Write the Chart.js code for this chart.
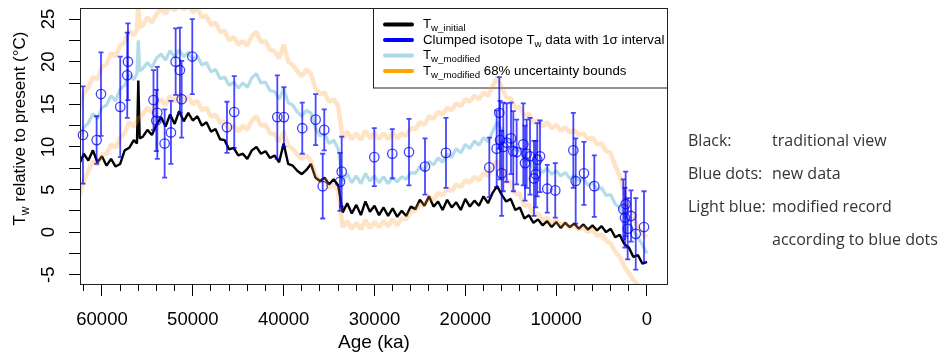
<!DOCTYPE html>
<html>
<head>
<meta charset="utf-8">
<script src="https://cdn.jsdelivr.net/npm/chart.js@4/dist/chart.umd.min.js"></script>
<style>
html,body{margin:0;padding:0;background:#fff;}
#wrap{position:relative;width:948px;height:355px;overflow:hidden;}
#c{position:absolute;left:0;top:0;}
.note{position:absolute;font-family:"Open Sans",sans-serif;font-size:16px;line-height:20px;color:#333;white-space:nowrap;}
</style>
</head>
<body>
<div id="wrap">
<canvas id="c" width="948" height="355"></canvas>
<div class="note" style="left:688px;top:130px;">Black:</div>
<div class="note" style="left:772px;top:130px;">traditional view</div>
<div class="note" style="left:688px;top:163px;">Blue dots:</div>
<div class="note" style="left:772px;top:163px;">new data</div>
<div class="note" style="left:688px;top:196px;">Light blue:</div>
<div class="note" style="left:772px;top:196px;">modified record</div>
<div class="note" style="left:772px;top:229px;">according to blue dots</div>
</div>
<script>
// ---- data (age in years before present, temperature in °C) ----
const age = [62500,62000,61500,61000,60500,60000,59500,59000,58500,58000,
57500,57000,56500,56150,56000,55850,55500,55000,54500,54000,53500,53000,
52500,52000,51500,51000,50500,50000,49500,49000,48500,48000,
47500,47000,46500,46000,45500,45000,44500,44000,43500,43000,
42500,42000,41500,41000,40500,40000,39500,39000,38500,38000,
37500,37000,36500,36000,35500,35000,34500,34000,33500,33000,
32500,32000,31500,31000,30500,30000,29500,29000,28500,28000,
27500,27000,26500,26000,25500,25000,24500,24000,23500,23000,
22500,22000,21500,21000,20500,20000,19500,19000,18500,18000,
17500,17000,16500,16000,15500,15000,14500,14000,13500,13000,
12500,12000,11500,11000,10500,10000,9500,9000,8500,8000,
7500,7000,6500,6000,5500,5000,4500,4000,3500,3000,
2500,2000,1500,1000,500,0];

const twInitial = [8.0,9.2,8.4,9.6,8.2,8.9,7.8,8.6,7.7,8.0,
9.6,9.9,10.8,10.4,17.8,11.0,11.2,12.0,11.4,12.6,13.5,12.4,
13.8,12.7,14.2,13.0,14.0,13.1,13.6,12.5,12.9,11.8,
12.1,10.9,10.8,9.7,9.9,9.0,9.2,8.6,9.6,10.0,
9.2,9.5,8.7,9.0,8.2,10.4,8.0,7.8,7.2,6.8,
7.3,8.0,6.4,6.0,6.4,5.6,6.2,5.5,2.3,3.4,
2.2,3.2,2.0,3.6,2.4,3.1,2.0,2.9,1.9,2.8,
1.8,2.5,1.9,3.0,2.7,3.8,3.1,4.2,3.0,3.6,
2.6,3.8,2.9,3.5,2.6,3.9,3.0,3.7,3.1,4.2,
3.4,4.6,5.4,4.4,3.6,3.9,2.6,2.9,1.6,2.0,
1.1,1.5,0.8,1.3,0.6,1.2,0.5,1.1,0.6,1.0,
0.4,0.9,0.3,0.8,0.2,0.7,0.0,0.4,-0.6,-0.3,
-1.4,-1.8,-2.9,-2.7,-3.7,-3.5];

const twModified = [11.0,12.3,12.8,13.9,13.3,14.6,14.9,16.0,15.4,16.8,
17.2,18.5,17.9,18.6,22.5,18.9,19.2,19.9,19.3,20.4,20.9,20.2,
21.3,20.5,21.4,20.6,21.1,20.2,20.7,19.6,19.9,18.8,
19.1,18.0,18.2,17.2,17.6,16.9,17.5,17.0,18.1,18.6,
17.5,17.6,16.6,16.5,15.6,16.8,15.2,14.9,14.1,13.6,
14.3,14.0,12.2,11.3,11.6,10.4,10.8,9.8,6.0,6.8,
5.8,6.6,5.7,6.9,6.0,6.6,5.8,6.5,5.7,6.4,
5.9,6.5,6.2,7.0,6.9,7.7,7.3,8.3,7.9,8.7,
8.2,9.2,8.8,9.8,9.3,10.3,9.8,10.7,10.2,11.1,
10.6,11.8,12.9,12.0,10.8,10.9,9.6,9.8,8.4,8.5,
7.4,7.7,7.0,7.5,6.8,7.2,6.6,7.0,6.3,6.7,
6.0,6.3,5.5,5.8,5.0,5.2,4.3,4.4,3.3,2.9,
2.0,1.2,0.2,-0.6,-1.5,-2.5];

const twUpper = [14.5,16.3,17.0,18.2,17.9,19.4,19.7,21.0,20.6,21.9,
22.3,23.6,23.1,23.8,27.0,24.0,24.3,25.2,24.6,25.6,26.2,25.6,
26.6,26.0,26.8,26.1,26.6,25.8,26.3,25.2,25.4,24.3,
24.6,23.5,23.6,22.5,22.9,22.0,22.4,21.9,23.0,23.5,
22.3,22.4,21.4,21.2,20.4,22.0,20.0,19.6,18.9,18.3,
19.1,18.6,16.9,16.2,16.4,15.3,15.6,14.8,11.0,11.8,
10.9,11.6,10.8,11.9,11.0,11.7,10.9,11.6,10.9,11.7,
11.0,11.6,11.3,12.2,12.1,12.9,12.6,13.6,13.3,14.1,
13.8,14.6,14.3,15.1,14.8,15.6,15.3,16.0,15.6,16.4,
16.0,17.1,18.2,17.0,15.8,15.7,14.6,14.7,13.6,13.9,
12.8,13.1,12.4,12.9,12.2,12.6,11.9,12.3,11.7,12.0,
11.4,11.6,10.9,11.1,10.3,10.4,9.5,9.3,7.8,6.6,
4.8,3.0,1.6,0.6,-0.2,-0.6];

const twLower = [4.2,6.0,7.2,8.3,7.9,9.1,9.2,10.3,9.9,11.1,
11.6,12.9,12.4,13.0,13.5,13.4,13.8,14.6,14.0,15.0,15.6,14.9,
16.0,15.3,16.2,15.4,15.9,15.0,15.4,14.3,14.6,13.5,
13.8,12.8,13.0,12.0,12.5,11.8,12.5,12.0,13.1,13.6,
12.5,12.6,11.6,11.5,10.6,11.8,10.2,9.8,9.1,8.6,
9.0,8.4,6.7,5.9,6.2,5.2,5.6,4.9,0.6,1.3,
0.4,1.1,0.3,1.4,0.5,1.2,0.6,1.3,0.7,1.5,
0.8,1.6,1.5,2.4,2.5,3.3,3.2,4.1,3.8,4.6,
4.3,5.1,4.8,5.6,5.3,6.1,5.8,6.5,6.1,6.9,
6.6,7.6,8.4,7.4,5.9,5.9,4.5,4.5,3.1,3.2,
2.0,2.2,1.4,1.7,1.0,1.4,0.8,1.1,0.5,0.8,
0.3,0.6,0.0,0.3,-0.4,-0.3,-1.0,-1.3,-2.3,-2.9,
-4.0,-4.8,-5.6,-6.2,-6.8,-7.0];

// clumped isotope data points
const ptAge = [62090,60590,60110,57990,57220,57140,54330,53910,54020,53100,
52410,51890,51420,51230,50060,46240,45440,40700,39970,37950,
36480,35530,35700,33800,33610,30020,28040,26200,24440,22130,
17360,16550,16260,16180,16000,15820,15450,14970,14720,14350,
13620,13430,13250,12880,12440,12250,12080,11780,10980,10100,
8110,7850,6940,5800,2610,2420,2350,2130,1760,1240,330];
const ptT = [11.4,10.8,16.2,14.7,18.4,20.0,15.5,14.0,13.1,10.4,
11.7,20.0,19.0,15.6,20.6,12.3,14.1,13.5,13.5,12.2,
13.2,12.0,5.4,5.9,7.1,8.8,9.2,9.4,7.7,9.3,
7.6,9.8,14.0,10.8,6.9,10.0,10.5,11.0,9.5,9.4,
10.3,8.1,9.2,8.9,6.3,6.8,8.5,8.9,5.1,4.9,
9.6,6.0,6.9,5.4,2.7,1.7,3.3,0.4,1.9,-0.2,0.6];
const ptErr = [5.7,2.8,4.9,5.9,5.0,4.5,3.5,5.4,3.6,4.0,
3.7,3.9,5.0,4.5,4.4,3.0,4.2,4.9,3.5,3.0,
3.0,2.4,3.8,3.4,4.1,3.4,2.9,3.9,3.3,4.1,
3.5,4.5,4.2,4.6,5.0,5.2,4.6,4.2,4.7,3.8,
4.8,4.4,4.0,4.5,4.4,3.9,4.3,4.2,2.8,3.2,
4.4,5.0,3.7,3.6,3.5,3.5,3.8,3.6,3.0,4.2,4.2];

// axis ranges and tick values
const xMin = -2312, xMax = 62420;
const yMin = -6.2, yMax = 26.3;
const xMajorTicks = [60000, 50000, 40000, 30000, 20000, 10000, 0];
const xMinorTicks = [62000,60000,58000,56000,54000,52000,50000,48000,46000,44000,42000,40000,
  38000,36000,34000,32000,30000,28000,26000,24000,22000,20000,18000,16000,14000,12000,10000,
  8000,6000,4000,2000,0];
const yTicks = [-5, -2.5, 0, 2.5, 5, 7.5, 10, 12.5, 15, 17.5, 20, 22.5, 25];
const yTickLabels = ['-5', '', '0', '', '5', '', '10', '', '15', '', '20', '', '25'];

const legendItems = [
  {color:'#000000', parts:[['T',0],['w_initial',1]]},
  {color:'#0000ff', parts:[['Clumped isotope T',0],['w',1],[' data with 1\u03c3 interval',0]]},
  {color:'#add8e6', parts:[['T',0],['w_modified',1]]},
  {color:'#ffa500', parts:[['T',0],['w_modified',1],[' 68% uncertainty bounds',0]]}
];
const yTitleParts = [['T',0],['w',1],[' relative to present (\u00b0C)',0]];

// ---- helpers ----
const FAM = '"Liberation Sans", Arial, sans-serif';
function drawRich(ctx, x, y, parts, size, subSize, subDy) {
  let cx = x;
  for (const [t, sub] of parts) {
    ctx.font = (sub ? subSize : size) + 'px ' + FAM;
    ctx.fillText(t, cx, sub ? y + subDy : y);
    cx += ctx.measureText(t).width;
  }
  return cx - x;
}
function richWidth(ctx, parts, size, subSize) {
  let w = 0;
  for (const [t, sub] of parts) { ctx.font = (sub ? subSize : size) + 'px ' + FAM; w += ctx.measureText(t).width; }
  return w;
}

const decor = {
  id: 'decor',
  beforeDatasetsDraw(chart) {
    const ctx = chart.ctx, a = chart.chartArea;
    const L = 373, T = a.top, R = a.right, B = 87.5;
    ctx.save();
    ctx.fillStyle = '#fff';
    ctx.fillRect(L, T, R - L, B - T);
    ctx.strokeStyle = '#222'; ctx.lineWidth = 1;
    ctx.strokeRect(L + 0.5, T + 0.5, R - L - 1, B - T);
    const ys = [24.5, 40, 55.5, 71];
    legendItems.forEach((it, i) => {
      ctx.strokeStyle = it.color; ctx.lineWidth = 4; ctx.lineCap = 'round';
      ctx.beginPath(); ctx.moveTo(385, ys[i]); ctx.lineTo(412, ys[i]); ctx.stroke();
      ctx.fillStyle = '#000'; ctx.textBaseline = 'alphabetic'; ctx.textAlign = 'left';
      drawRich(ctx, 423, ys[i] + 3.8, it.parts, 13.3, 9.7, 3);
    });
    ctx.restore();
  },
  afterDatasetsDraw(chart) {
    const ctx = chart.ctx, xs = chart.scales.x, ys = chart.scales.y;
    ctx.save();
    ctx.strokeStyle = 'rgba(0,0,255,0.72)'; ctx.lineWidth = 1.8; ctx.lineCap = 'butt';
    for (let i = 0; i < ptAge.length; i++) {
      const px = xs.getPixelForValue(ptAge[i]);
      const y1 = ys.getPixelForValue(ptT[i] + ptErr[i]);
      const y2 = ys.getPixelForValue(ptT[i] - ptErr[i]);
      ctx.beginPath();
      ctx.moveTo(px, y1); ctx.lineTo(px, y2);
      ctx.moveTo(px - 2.5, y1); ctx.lineTo(px + 2.5, y1);
      ctx.moveTo(px - 2.5, y2); ctx.lineTo(px + 2.5, y2);
      ctx.stroke();
    }
    ctx.restore();
  },
  afterDraw(chart) {
    const ctx = chart.ctx, a = chart.chartArea;
    ctx.save();
    ctx.strokeStyle = '#222'; ctx.lineWidth = 1;
    ctx.strokeRect(Math.round(a.left) + 0.5, Math.round(a.top) + 0.5, Math.round(a.right - a.left) - 1, Math.round(a.bottom - a.top) - 1);
    // y axis title
    const w = richWidth(ctx, yTitleParts, 17, 12);
    ctx.translate(25, 128.5);
    ctx.rotate(-Math.PI / 2);
    ctx.fillStyle = '#000'; ctx.textBaseline = 'alphabetic'; ctx.textAlign = 'left';
    drawRich(ctx, -w / 2, 0, yTitleParts, 17, 12, 4);
    ctx.restore();
  }
};

const lineDs = (label, data, color, width) => ({
  label, data: age.map((a, i) => ({x: a, y: data[i]})),
  borderColor: color, borderWidth: width, pointRadius: 0, tension: 0,
  fill: false, clip: 0, borderJoinStyle: 'bevel'
});
const setTicks = vals => s => { s.ticks = vals.map(v => ({value: v})); };

new Chart(document.getElementById('c'), {
  type: 'line',
  data: {
    datasets: [
      {
        type: 'scatter', label: 'Clumped isotope Tw',
        data: ptAge.map((a, i) => ({x: a, y: ptT[i]})),
        showLine: false, pointStyle: 'circle', pointRadius: 4.7,
        pointBorderWidth: 1.3, pointBorderColor: 'rgba(0,0,255,0.75)',
        pointBackgroundColor: 'rgba(0,0,0,0)', clip: false
      },
      lineDs('Tw_modified upper', twUpper, 'rgba(255,150,40,0.27)', 4.5),
      lineDs('Tw_modified lower', twLower, 'rgba(255,150,40,0.27)', 4.5),
      lineDs('Tw_modified', twModified, 'rgba(160,210,226,0.8)', 3.2),
      lineDs('Tw_initial', twInitial, '#000000', 2.4)
    ]
  },
  options: {
    responsive: false, animation: false, devicePixelRatio: 1,
    layout: {padding: {left: 0, right: 280, top: 8, bottom: 0}},
    plugins: {legend: {display: false}, tooltip: {enabled: false}},
    scales: {
      x: {
        type: 'linear', reverse: true, min: xMin, max: xMax, position: 'bottom', weight: 1,
        afterBuildTicks: setTicks(xMajorTicks),
        ticks: {autoSkip: false, minRotation: 0, maxRotation: 0,
          padding: 13, color: '#000', font: {family: FAM, size: 18.5}, callback: v => String(v)},
        grid: {drawOnChartArea: false, drawTicks: true, tickLength: 11, color: '#000', lineWidth: 1},
        border: {display: false},
        title: {display: true, text: 'Age (ka)', color: '#000', font: {family: FAM, size: 19}, padding: {top: 0, bottom: 1}},
        afterFit: s => { s.height = 70; s.paddingLeft = 0; s.paddingRight = 0; }
      },
      x2: {
        type: 'linear', reverse: true, min: xMin, max: xMax, position: 'bottom', weight: 0,
        afterBuildTicks: setTicks(xMinorTicks),
        ticks: {display: false, autoSkip: false},
        grid: {drawOnChartArea: false, drawTicks: true, tickLength: 6, color: '#000', lineWidth: 1},
        border: {display: false},
        afterFit: s => { s.height = 0; s.paddingLeft = 0; s.paddingRight = 0; }
      },
      y: {
        type: 'linear', min: yMin, max: yMax, position: 'left',
        afterBuildTicks: setTicks(yTicks),
        ticks: {autoSkip: false, minRotation: 90, maxRotation: 90,
          crossAlign: 'center', padding: 10, color: '#000', font: {family: FAM, size: 18.5},
          callback: (v) => yTickLabels[yTicks.indexOf(v)] ?? ''},
        grid: {drawOnChartArea: false, drawTicks: true, tickLength: 11, color: '#000', lineWidth: 1},
        border: {display: false},
        afterFit: s => { s.width = 80; s.paddingTop = 0; s.paddingBottom = 0; }
      }
    }
  },
  plugins: [decor]
});
</script>
</body>
</html>
